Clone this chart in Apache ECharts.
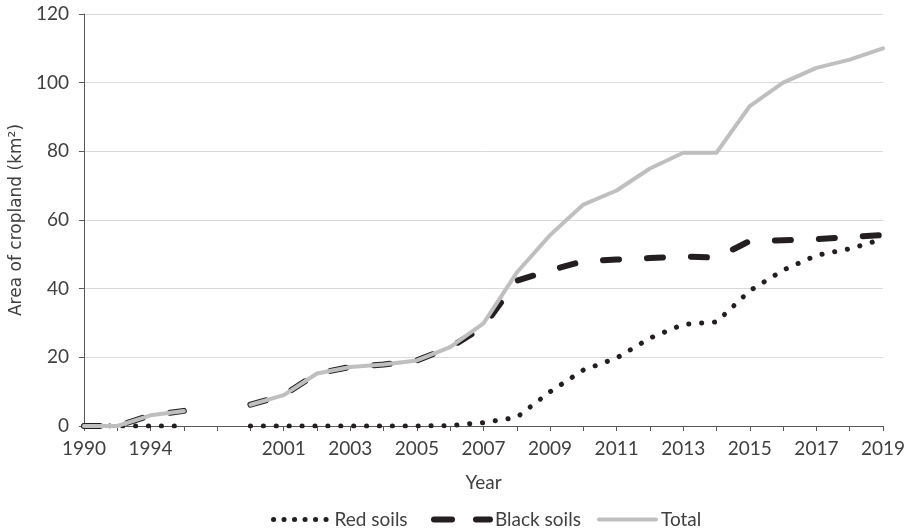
<!DOCTYPE html>
<html>
<head>
<meta charset="utf-8">
<script src="https://cdn.jsdelivr.net/npm/echarts@6/dist/echarts.min.js"></script>
<style>
html,body{margin:0;padding:0;background:#fff;}
#chart{width:909px;height:528px;}
</style>
</head>
<body>
<div id="chart"></div>
<script>
const categories = ['1990','1992','1994','1996','','2000','2001','2002','2003','2004','2005','2006','2007','2008','2009','2010','2011','2012','2013','2014','2015','2016','2017','2018','2019'];
const redSoils   = [0,0,0,0,null,0,0,0,0,0,0,0.1,1.0,2.5,10.0,16.3,19.8,25.6,29.6,30.3,39.4,45.4,49.7,51.6,54.5];
const blackSoils = [0,0,3.1,4.4,null,6.2,9.0,15.3,17.2,17.9,19.1,22.9,28.9,42.3,45.3,48.0,48.5,48.9,49.4,49.0,53.9,54.1,54.4,55.1,55.6];
const total      = [0,0,3.1,4.4,null,6.2,9.0,15.3,17.2,17.9,19.1,23.0,29.9,44.7,55.6,64.5,68.6,75.0,79.6,79.6,93.2,100.0,104.3,106.7,110.0];
const yTicks = [0,20,40,60,80,100,120];

const FONT = 'Lato';
const TXT = '#404040';
const DARK = '#231f20';
const GRAY = '#bfbfbf';
const chart = echarts.init(document.getElementById('chart'), null, {renderer:'canvas'});
const legendText = {fontFamily: FONT, fontSize: 19, color: TXT};
const legendCommon = {top: 505, itemHeight: 14, textStyle: legendText, selectedMode: false, itemStyle: {opacity: 0}};
chart.setOption({
  animation: false,
  backgroundColor: '#ffffff',
  grid: {left: 82, right: 26, top: 14, bottom: 102, containLabel: false},
  legend: [
    Object.assign({data: ['Red soils'], left: 266, itemWidth: 56,
      lineStyle: {color: DARK, width: 5, type: [0.1, 10.4], cap: 'round', opacity: 1}}, legendCommon),
    Object.assign({data: ['Black soils'], left: 426, itemWidth: 56,
      lineStyle: {color: DARK, width: 6, type: [18, 24], cap: 'round', opacity: 1}}, legendCommon),
    Object.assign({data: ['Total'], left: 592, itemWidth: 57,
      lineStyle: {color: GRAY, width: 4, type: 'solid', cap: 'round', opacity: 1}}, legendCommon)
  ],
  xAxis: {
    type: 'category',
    data: categories,
    boundaryGap: false,
    name: 'Year',
    nameLocation: 'middle',
    nameGap: 47,
    nameTextStyle: {fontFamily: FONT, fontSize: 19, color: TXT},
    axisLine: {lineStyle: {color: '#595959', width: 1}},
    axisTick: {show: true, interval: 0, length: 5, lineStyle: {color: '#595959'}},
    axisLabel: {interval: 1, margin: 13, fontFamily: FONT, fontSize: 19, color: TXT},
    splitLine: {show: false}
  },
  yAxis: {
    type: 'value',
    min: yTicks[0],
    max: yTicks[yTicks.length - 1],
    interval: 20,
    name: 'Area of cropland (km²)',
    nameLocation: 'middle',
    nameRotate: 90,
    nameGap: 55,
    nameTextStyle: {fontFamily: 'DejaVu Sans', fontSize: 17, color: TXT},
    axisLine: {show: true, lineStyle: {color: '#595959', width: 1}},
    axisTick: {show: true, length: 5, lineStyle: {color: '#595959'}},
    axisLabel: {margin: 15, fontFamily: FONT, fontSize: 19, color: TXT},
    splitLine: {show: true, lineStyle: {color: '#d9d9d9', width: 1}}
  },
  series: [
    {
      name: 'Red soils', type: 'line', data: redSoils, symbol: 'none', connectNulls: false,
      lineStyle: {color: DARK, width: 5, type: [0.1, 12.8], cap: 'round', join: 'round'},
      itemStyle: {color: DARK}, z: 2
    },
    {
      name: 'Black soils', type: 'line', data: blackSoils, symbol: 'none', connectNulls: false,
      lineStyle: {color: DARK, width: 6, type: [16, 28], cap: 'round', join: 'round'},
      itemStyle: {color: DARK}, z: 3
    },
    {
      name: 'Total', type: 'line', data: total, symbol: 'none', connectNulls: false,
      lineStyle: {color: GRAY, width: 4, cap: 'round', join: 'round'},
      itemStyle: {color: GRAY}, z: 4
    }
  ]
});
</script>
</body>
</html>
